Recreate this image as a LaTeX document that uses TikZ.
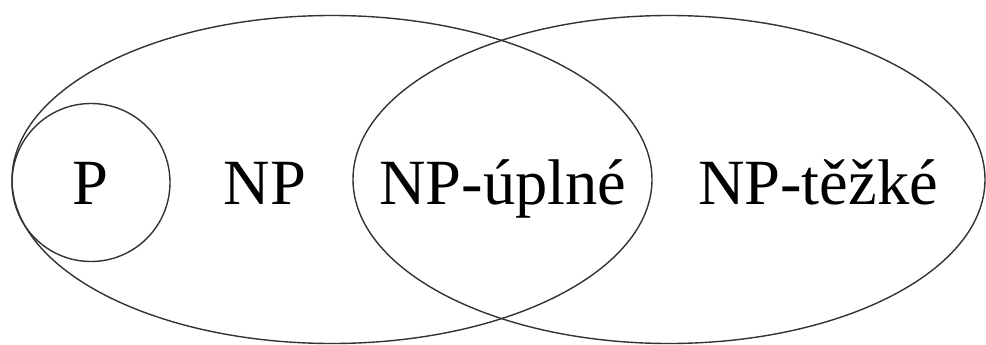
\documentclass[tikz,border=0pt]{standalone}
\usepackage{fontspec}
\setmainfont{Liberation Serif}
\begin{document}
\begin{tikzpicture}[x=1pt,y=-1pt,
  setline/.style={draw=black!80,line width=1.4pt},
  lbl/.style={anchor=base,inner sep=0pt,font=\fontsize{64.5}{70}\selectfont}]
\useasboundingbox (0,0) rectangle (986,345);
\draw[setline] (332,179.5) ellipse [x radius=320, y radius=164];
\draw[setline] (669,179.5) ellipse [x radius=316, y radius=164];
\draw[setline] (91,182.5) circle [radius=79];
\node[lbl] (p) at (90,204) {P};
\node[lbl] (np) at (265,204) {NP};
\node[lbl] (npc) at (503,204) {NP-úplné};
\node[lbl] (nph) at (818,204) {NP-těžké};
\end{tikzpicture}
\end{document}
